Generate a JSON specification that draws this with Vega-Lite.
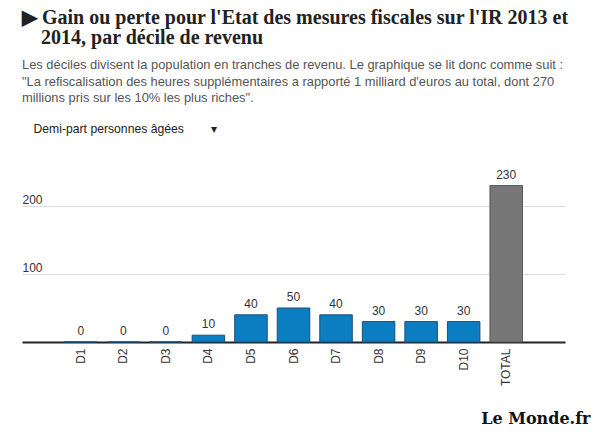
{
  "$schema": "https://vega.github.io/schema/vega-lite/v6.json",
  "width": 543,
  "height": 170,
  "autosize": {"type": "none"},
  "padding": {"left": 22, "top": 172, "right": 35, "bottom": 96},
  "background": "white",
  "view": {"stroke": null},
  "title": {
    "text": ["▶ Gain ou perte pour l'Etat des mesures fiscales sur l'IR 2013 et", "\u2800\u20092014, par décile de revenu"],
    "subtitle": [
      "Les déciles divisent la population en tranches de revenu. Le graphique se lit donc comme suit :",
      "\"La refiscalisation des heures supplémentaires a rapporté 1 milliard d'euros au total, dont 270",
      "millions pris sur les 10% les plus riches\"."
    ],
    "anchor": "start",
    "frame": "group",
    "offset": 17,
    "font": "Liberation Serif",
    "fontSize": 20,
    "fontWeight": "bold",
    "color": "#222222",
    "lineHeight": 20,
    "subtitleFont": "Liberation Sans",
    "subtitleFontSize": 12.9,
    "subtitleColor": "#555555",
    "subtitleLineHeight": 16.5,
    "subtitlePadding": 11
  },
  "data": {
    "values": [
      {"decile": "D1", "valeur": 0, "type": "decile"},
      {"decile": "D2", "valeur": 0, "type": "decile"},
      {"decile": "D3", "valeur": 0, "type": "decile"},
      {"decile": "D4", "valeur": 10, "type": "decile"},
      {"decile": "D5", "valeur": 40, "type": "decile"},
      {"decile": "D6", "valeur": 50, "type": "decile"},
      {"decile": "D7", "valeur": 40, "type": "decile"},
      {"decile": "D8", "valeur": 30, "type": "decile"},
      {"decile": "D9", "valeur": 30, "type": "decile"},
      {"decile": "D10", "valeur": 30, "type": "decile"},
      {"decile": "TOTAL", "valeur": 230, "type": "total"}
    ]
  },
  "encoding": {
    "x": {
      "field": "decile",
      "type": "nominal",
      "sort": null,
      "scale": {"paddingInner": 0.236, "paddingOuter": 1.3},
      "axis": {
        "title": "Le Monde.fr",
        "titleX": 568,
        "titleY": 76,
        "titleAlign": "right",
        "titleAnchor": "end",
        "titleBaseline": "middle",
        "titleFont": "DejaVu Serif",
        "titleFontSize": 16,
        "titleFontWeight": "bold",
        "titleColor": "#111111",
        "labelAngle": 270,
        "labelPadding": 6,
        "ticks": false,
        "domainColor": "#222222",
        "domainWidth": 2,
        "labelFont": "Liberation Sans",
        "labelFontSize": 12,
        "labelColor": "#333333",
        "grid": false
      }
    },
    "y": {
      "field": "valeur",
      "type": "quantitative",
      "scale": {"domain": [0, 250]},
      "axis": {
        "values": [100, 200],
        "title": "Demi-part personnes âgées\u00a0\u00a0\u00a0\u00a0\u00a0\u00a0\u00a0\u00a0▾",
        "titleAngle": 0,
        "titleX": 11,
        "titleY": -44,
        "titleAlign": "left",
        "titleAnchor": "start",
        "titleBaseline": "middle",
        "titleFont": "Liberation Sans",
        "titleFontSize": 12.2,
        "titleFontWeight": "normal",
        "titleColor": "#222222",
        "labelAlign": "left",
        "labelBaseline": "bottom",
        "labelPadding": 0,
        "labelDy": -4,
        "ticks": false,
        "domain": false,
        "grid": true,
        "gridColor": "#dddddd",
        "labelFont": "Liberation Sans",
        "labelFontSize": 12,
        "labelColor": "#333333"
      }
    }
  },
  "layer": [
    {
      "mark": {"type": "bar", "strokeWidth": 1},
      "encoding": {
        "color": {"field": "type", "type": "nominal", "scale": {"domain": ["decile", "total"], "range": ["#0b7dc1", "#777777"]}, "legend": null},
        "stroke": {"field": "type", "type": "nominal", "scale": {"domain": ["decile", "total"], "range": ["#1d4f73", "#555555"]}, "legend": null}
      }
    },
    {
      "mark": {"type": "text", "baseline": "bottom", "dy": -4, "fontSize": 12, "color": "#333333", "font": "Liberation Sans"},
      "encoding": {"text": {"field": "valeur", "type": "quantitative"}}
    }
  ]
}
